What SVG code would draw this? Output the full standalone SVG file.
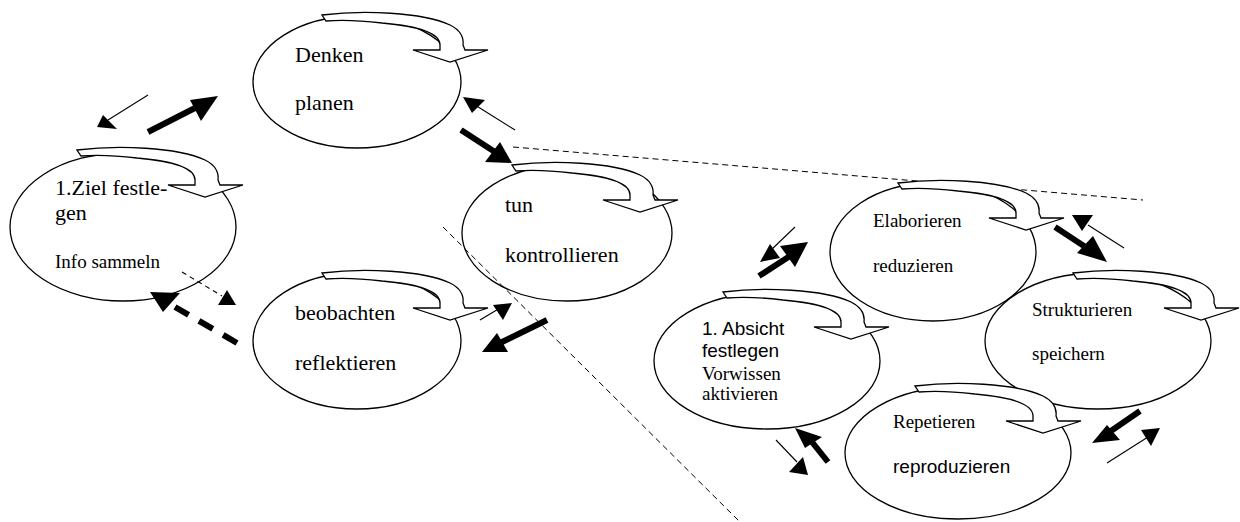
<svg xmlns="http://www.w3.org/2000/svg" xmlns:xlink="http://www.w3.org/1999/xlink" width="1240" height="522" viewBox="0 0 1240 522">
<style>
.bg{fill:#fff}
.ell{fill:none;stroke:#000;stroke-width:1.3}
.ca{fill:#fff;stroke:#000;stroke-width:1.3;stroke-linejoin:miter}
.sep{fill:none;stroke:#000;stroke-width:1;stroke-dasharray:6,4}
.thin{stroke:#000;stroke-width:1.1;fill:none}
.thick{stroke:#000;stroke-width:6;fill:none}
.dthin{stroke:#000;stroke-width:1.1;fill:none;stroke-dasharray:5,4}
.dthick{stroke:#000;stroke-width:6;fill:none;stroke-dasharray:16,12}
.head{fill:#000;stroke:none}
.s22{font-family:"Liberation Serif","Times New Roman",serif;font-size:22px;fill:#000}
.s19{font-family:"Liberation Serif","Times New Roman",serif;font-size:19px;fill:#000}
.a19{font-family:"Liberation Sans",Arial,sans-serif;font-size:19px;fill:#000}
</style>
<defs>
<path id="curl" d="M0,0 C40,-5 100,-3 128,10 C138,15 142,22 141,30 L143,35 L166,35 L128,47 L91,35 L118,35 L118,30 C118,18 95,11 60,8 C35,5 15,5 4,6 Z"/>
</defs>
<rect class="bg" x="0" y="0" width="1240" height="522"/>
<g id="separators">
<line class="sep" x1="513" y1="147" x2="1143" y2="200"/>
<line class="sep" x1="443" y1="227" x2="740" y2="522"/>
</g>
<g id="node-denken">
<ellipse class="ell" cx="357" cy="82" rx="104" ry="66"/>
<use class="ca" href="#curl" xlink:href="#curl" transform="translate(322,15)"/>
<text class="s22" x="295" y="62">Denken</text>
<text class="s22" x="295" y="110">planen</text>
</g>
<g id="node-ziel">
<ellipse class="ell" cx="123" cy="227" rx="113" ry="74"/>
<use class="ca" href="#curl" xlink:href="#curl" transform="translate(77,150)"/>
<text class="s22" x="55" y="195">1.Ziel festle-</text>
<text class="s22" x="55" y="220">gen</text>
<text class="s19" x="55" y="268">Info sammeln</text>
</g>
<g id="node-tun">
<ellipse class="ell" cx="567" cy="233" rx="105" ry="68"/>
<use class="ca" href="#curl" xlink:href="#curl" transform="translate(512,165)"/>
<text class="s22" x="505" y="212">tun</text>
<text class="s22" x="505" y="262">kontrollieren</text>
</g>
<g id="node-beobachten">
<ellipse class="ell" cx="357" cy="341" rx="104" ry="68"/>
<use class="ca" href="#curl" xlink:href="#curl" transform="translate(322,273)"/>
<text class="s22" x="295" y="320">beobachten</text>
<text class="s22" x="295" y="370">reflektieren</text>
</g>
<g id="node-elaborieren">
<ellipse class="ell" cx="933" cy="252" rx="103" ry="69"/>
<use class="ca" href="#curl" xlink:href="#curl" transform="translate(898,183)"/>
<text class="s19" x="873" y="227">Elaborieren</text>
<text class="s19" x="873" y="272">reduzieren</text>
</g>
<g id="node-strukturieren">
<ellipse class="ell" cx="1098" cy="341" rx="113" ry="68"/>
<use class="ca" href="#curl" xlink:href="#curl" transform="translate(1073,273)"/>
<text class="s19" x="1032" y="316">Strukturieren</text>
<text class="s19" x="1032" y="360">speichern</text>
</g>
<g id="node-absicht">
<ellipse class="ell" cx="767" cy="361" rx="113" ry="68"/>
<use class="ca" href="#curl" xlink:href="#curl" transform="translate(723,292)"/>
<text class="a19" x="702" y="335">1. Absicht</text>
<text class="a19" x="702" y="357">festlegen</text>
<text class="s19" x="702" y="380">Vorwissen</text>
<text class="s19" x="702" y="400">aktivieren</text>
</g>
<g id="node-repetieren">
<ellipse class="ell" cx="958" cy="453" rx="113" ry="66"/>
<use class="ca" href="#curl" xlink:href="#curl" transform="translate(915,386)"/>
<text class="s19" x="893" y="428">Repetieren</text>
<text class="a19" x="893" y="473">reproduzieren</text>
</g>
<g id="connectors">
<line class="thin" x1="148" y1="95" x2="108" y2="120"/>
<polygon class="head" points="97,127 103,115 117,129"/>
<line class="thick" x1="148" y1="132" x2="195" y2="108"/>
<polygon class="head" points="218,96 190,100 201,121"/>
<line class="thin" x1="515" y1="130" x2="475" y2="105"/>
<polygon class="head" points="463,97 485,100 472,113"/>
<line class="thick" x1="461" y1="130" x2="495" y2="152"/>
<polygon class="head" points="512,163 485,162 500,142"/>
<line class="dthin" x1="182" y1="272" x2="222" y2="296"/>
<polygon class="head" points="218,305 236,305 227,290"/>
<line class="dthick" x1="237" y1="343" x2="175" y2="307"/>
<polygon class="head" points="150,292 180,293 163,312"/>
<line class="thin" x1="480" y1="320" x2="500" y2="308"/>
<polygon class="head" points="493,305 512,303 503,320"/>
<line class="thick" x1="547" y1="320" x2="500" y2="343"/>
<polygon class="head" points="482,352 497,333 508,352"/>
<line class="thin" x1="795" y1="227" x2="770" y2="251"/>
<polygon class="head" points="760,262 770,244 780,258"/>
<line class="thick" x1="759" y1="276" x2="790" y2="256"/>
<polygon class="head" points="808,242 780,246 795,267"/>
<line class="thin" x1="1124" y1="248" x2="1088" y2="225"/>
<polygon class="head" points="1072,215 1093,215 1082,231"/>
<line class="thick" x1="1055" y1="227" x2="1090" y2="250"/>
<polygon class="head" points="1107,262 1077,253 1093,236"/>
<line class="thick" x1="1140" y1="411" x2="1108" y2="433"/>
<polygon class="head" points="1092,443 1107,425 1120,440"/>
<line class="thin" x1="1107" y1="463" x2="1148" y2="437"/>
<polygon class="head" points="1160,428 1141,430 1151,446"/>
<line class="thick" x1="828" y1="462" x2="812" y2="442"/>
<polygon class="head" points="795,428 822,437 805,448"/>
<line class="thin" x1="776" y1="440" x2="797" y2="462"/>
<polygon class="head" points="808,475 789,472 803,457"/>
</g>
</svg>
